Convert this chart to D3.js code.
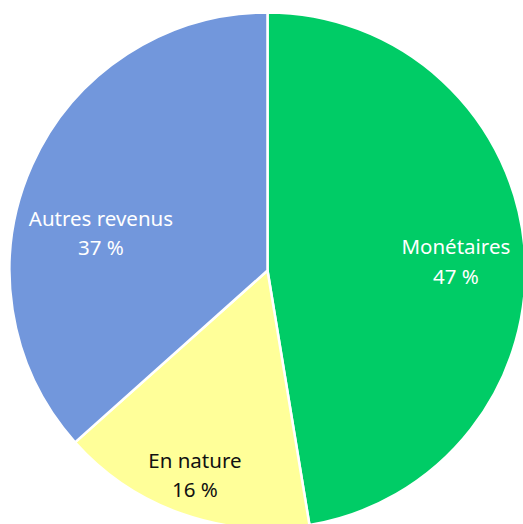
<!DOCTYPE html>
<html>
<head>
<meta charset="utf-8">
<script src="https://cdn.jsdelivr.net/npm/d3@7"></script>
<style>
  body { margin: 0; background: #fff; }
  svg { display: block; }
</style>
</head>
<body>
<div id="chart"></div>
<script>
// parts of income, share in %
var categories = ["Monétaires", "En nature", "Autres revenus"];
var shares = [47.4, 16.0, 36.6];
var shareLabels = ["47 %", "16 %", "37 %"];

var colors = ["#00cc66", "#ffff99", "#7297dc"];
var textColors = ["#ffffff", "#111111", "#ffffff"];
// label placement: fraction of radius, angle shift in degrees
var labelRadius = [0.73, 0.867, 0.656];
var labelShift = [4.2, -0.5, -13.9];

var width = 523, height = 524;
var cx = 267.5, cy = 270.5, radius = 258;

var svg = d3.select("#chart").append("svg")
    .attr("width", width)
    .attr("height", height);

var g = svg.append("g")
    .attr("transform", "translate(" + cx + "," + cy + ")");

var pie = d3.pie().sort(null).value(function(d){ return d; });
var arcs = pie(shares);

var arc = d3.arc().innerRadius(0).outerRadius(radius);

g.selectAll("path.slice")
    .data(arcs)
    .enter().append("path")
    .attr("class", "slice")
    .attr("d", arc)
    .attr("fill", function(d, i){ return colors[i]; })
    .attr("stroke", "#ffffff")
    .attr("stroke-width", 2.5)
    .attr("stroke-linejoin", "round");

var labels = g.selectAll("g.label")
    .data(arcs)
    .enter().append("g")
    .attr("class", "label")
    .attr("transform", function(d, i){
        var a = (d.startAngle + d.endAngle) / 2 + labelShift[i] * Math.PI / 180;
        var r = radius * labelRadius[i];
        return "translate(" + (r * Math.sin(a)) + "," + (-r * Math.cos(a)) + ")";
    });

labels.append("text")
    .attr("text-anchor", "middle")
    .attr("font-family", "'Noto Sans', sans-serif")
    .attr("font-size", "20.5px")
    .attr("fill", function(d, i){ return textColors[i]; })
    .each(function(d, i){
        var t = d3.select(this);
        t.append("tspan").attr("x", 0).attr("y", -14.5).text(categories[i]);
        t.append("tspan").attr("x", 0).attr("y", 15).text(shareLabels[i]);
    });
</script>
</body>
</html>
